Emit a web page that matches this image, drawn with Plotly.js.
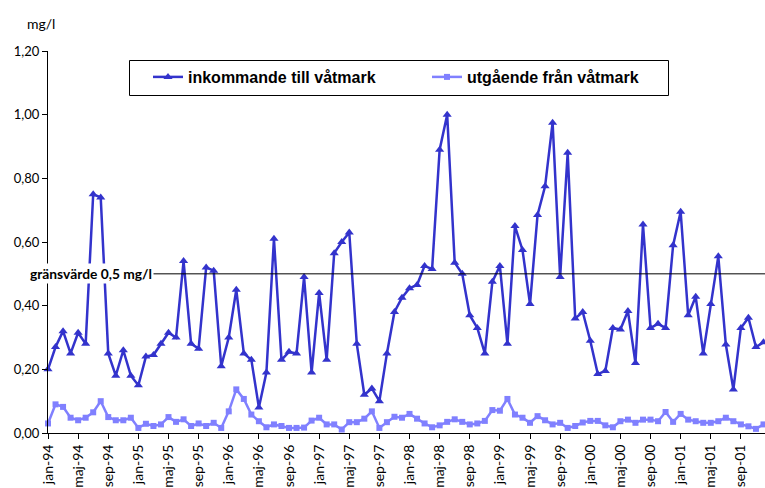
<!DOCTYPE html>
<html>
<head>
<meta charset="utf-8">
<script src="https://cdn.plot.ly/plotly-3.0.1.min.js"></script>
<style>html,body{margin:0;padding:0;background:#fff;}#chart{width:765px;height:488px;}</style>
</head>
<body>
<div id="chart"></div>
<script>
const monthNames = ["jan","feb","mar","apr","maj","jun","jul","aug","sep","okt","nov","dec"];
const years = ["94","95","96","97","98","99","00","01"];
const months = [];
years.forEach(y => monthNames.forEach(m => months.push(m + "-" + y)));

const inkommande = [
 0.20,0.27,0.32,0.25,0.315,0.28,0.75,0.74,0.25,0.18,0.26,0.18,
 0.15,0.24,0.245,0.28,0.315,0.30,0.54,0.28,0.265,0.52,0.51,0.21,
 0.30,0.45,0.25,0.23,0.08,0.19,0.61,0.23,0.255,0.25,0.49,0.19,
 0.44,0.23,0.565,0.60,0.63,0.28,0.12,0.14,0.10,0.25,0.38,0.425,
 0.455,0.465,0.525,0.515,0.89,1.00,0.535,0.50,0.37,0.33,0.25,0.475,
 0.525,0.28,0.65,0.575,0.405,0.685,0.775,0.975,0.49,0.88,0.36,0.38,
 0.29,0.185,0.195,0.33,0.325,0.383,0.22,0.655,0.33,0.343,0.33,0.59,
 0.695,0.37,0.428,0.25,0.405,0.555,0.278,0.137,0.33,0.362,0.27,0.285
];
const utgaende = [
 0.03,0.09,0.082,0.048,0.04,0.048,0.065,0.10,0.05,0.04,0.04,0.048,
 0.016,0.029,0.022,0.027,0.05,0.035,0.043,0.022,0.03,0.022,0.032,0.016,
 0.068,0.137,0.107,0.058,0.037,0.018,0.027,0.022,0.016,0.016,0.017,0.039,
 0.048,0.027,0.027,0.011,0.034,0.034,0.045,0.068,0.016,0.034,0.051,0.048,
 0.06,0.045,0.03,0.018,0.024,0.035,0.043,0.035,0.027,0.03,0.038,0.072,
 0.07,0.107,0.058,0.048,0.032,0.053,0.04,0.027,0.032,0.016,0.022,0.033,
 0.038,0.038,0.024,0.018,0.037,0.042,0.032,0.042,0.042,0.037,0.066,0.035,
 0.06,0.042,0.037,0.032,0.032,0.037,0.048,0.037,0.027,0.021,0.013,0.027
];
const gransvarde = 0.5;
const seriesNames = ["inkommande till våtmark", "utgående från våtmark"];
const yTicks = [0, 0.2, 0.4, 0.6, 0.8, 1.0, 1.2];

const FONT = "Lato, 'DejaVu Sans', sans-serif";
const LFONT = "'Liberation Sans', Arial, sans-serif";

const traces = [
  {
    x: months, y: inkommande, name: seriesNames[0], type: "scatter", mode: "lines+markers",
    line: {color: "#3333CC", width: 2.5},
    marker: {symbol: "triangle-up", size: 8, color: "#3333CC"},
    cliponaxis: false
  },
  {
    x: months, y: utgaende, name: seriesNames[1], type: "scatter", mode: "lines+markers",
    line: {color: "#8080FF", width: 2.5},
    marker: {symbol: "square", size: 6, color: "#8080FF"},
    cliponaxis: false
  }
];

// pixel -> paper helpers for the plot area (l=48, w=717; t=51, h=382)
const px = v => (v - 48) / 717;
const py = v => (433 - v) / 382;

const layout = {
  width: 765, height: 488,
  margin: {l: 48, r: 0, t: 51, b: 55, pad: 0},
  paper_bgcolor: "#fff", plot_bgcolor: "#fff",
  separators: ", ",
  font: {family: FONT, size: 13, color: "#000"},
  showlegend: true,
  legend: {
    orientation: "h", x: px(148), xanchor: "left", y: py(60), yanchor: "top",
    borderwidth: 0, bgcolor: "rgba(0,0,0,0)",
    font: {family: LFONT, size: 16, color: "#000", weight: "bold"},
    entrywidth: 234, entrywidthmode: "pixels",
    itemwidth: 30, traceorder: "normal"
  },
  xaxis: {
    type: "category", range: [0, 95.2], showgrid: false, zeroline: false,
    showline: true, linecolor: "#000", linewidth: 1,
    tickmode: "linear", tick0: 0, dtick: 4,
    ticks: "outside", ticklen: 5, tickcolor: "#000",
    tickangle: -90, tickfont: {family: FONT, size: 14, color: "#000"}
  },
  yaxis: {
    range: [0, 1.2], showgrid: false, zeroline: false,
    showline: true, linecolor: "#000", linewidth: 1,
    tickmode: "array", tickvals: yTicks, tickformat: ".2f",
    ticks: "outside", ticklen: 5, tickcolor: "#000",
    tickfont: {family: FONT, size: 13, color: "#000"}
  },
  shapes: [
    {type: "line", xref: "paper", x0: 0, x1: 1, yref: "y", y0: gransvarde, y1: gransvarde,
     line: {color: "#000", width: 1}, layer: "above"},
    {type: "rect", xref: "paper", yref: "paper", x0: px(129.5), x1: px(668.5), y0: py(95.5), y1: py(60.5),
     line: {color: "#000", width: 1}, fillcolor: "#fff", layer: "above"}
  ],
  annotations: [
    {text: "mg/l", xref: "paper", yref: "paper", x: px(41), y: py(23), xanchor: "center", yanchor: "middle",
     showarrow: false, font: {family: FONT, size: 14, color: "#000"}},
    {text: "gränsvärde 0,5 mg/l", xref: "paper", yref: "y", x: px(28), y: gransvarde, xanchor: "left", yanchor: "middle",
     showarrow: false, bgcolor: "#fff", borderpad: 1,
     font: {family: FONT, size: 13.8, color: "#000", weight: "bold"}}
  ]
};

Plotly.newPlot("chart", traces, layout, {displayModeBar: false, staticPlot: true});
</script>
</body>
</html>
